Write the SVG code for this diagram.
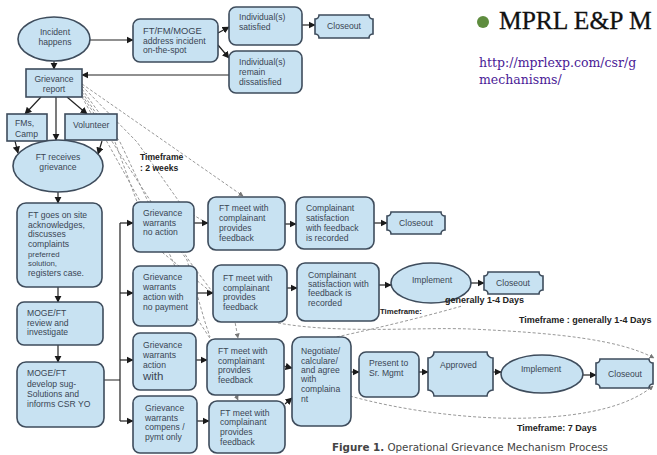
<svg xmlns="http://www.w3.org/2000/svg" width="657" height="455" viewBox="0 0 657 455">
<defs>
<marker id="ah" viewBox="0 0 10 10" refX="9" refY="5" markerWidth="6" markerHeight="6" orient="auto"><path d="M0,0 L10,5 L0,10 Z" fill="#1a1a1a"/></marker>
<marker id="ahg" viewBox="0 0 10 10" refX="9" refY="5" markerWidth="5" markerHeight="5" orient="auto"><path d="M0,0 L10,5 L0,10 Z" fill="#777"/></marker>
<style>
.n{fill:#c8e2f2;stroke:#3e4c5c;stroke-width:1.6}
.t{font-family:"Liberation Sans",Arial,sans-serif;font-size:8.6px;fill:#3a4654}
.tc{text-anchor:middle}
.s{font-size:7.8px}
.c{fill:none;stroke:#222;stroke-width:1.2;marker-end:url(#ah)}
.l{fill:none;stroke:#222;stroke-width:1.2}
.d{fill:none;stroke:#999;stroke-width:1;stroke-dasharray:3 2}
.da{marker-end:url(#ahg)}
.b{font-family:"Liberation Sans",Arial,sans-serif;font-weight:bold;font-size:8.6px;fill:#222}
</style>
</defs>
<rect width="657" height="455" fill="#fff"/>

<g id="connectors">
<path class="d da" d="M82,84 L243,196"/>
<path class="d" d="M82,86 L137,142 L185,210 L205,222"/>
<path class="d" d="M82,89 L120,142 L152,210 L187,260 L205,322 L210,337"/>
<path class="d" d="M82,92 L115,142 L140,210 L163,253 L211,292"/>
<path class="d da" d="M82,95 L190,262 L235,322 L238,338"/>
<path class="d da" d="M82,97 L170,255 L200,323 L213,343 L238,400"/>
<path class="d da" d="M278,323 C340,334 420,327 470,329 C560,333 620,340 654,358"/>
<path class="d" d="M322,340 C370,330 420,318 462,306"/>
<path class="d da" d="M350,396 C400,410 470,420 530,418 C590,416 630,405 653,386"/>

<path class="c" d="M90,40 L133,40"/>
<path class="c" d="M218,33 L229,27"/>
<path class="c" d="M218,45 L229,58"/>
<path class="c" d="M302,25 L315,25"/>
<path class="c" d="M229,75 L82,75"/>
<path class="c" d="M54,61 L54,69"/>
<path class="c" d="M41,97 L25,114"/>
<path class="c" d="M67,97 L87,114"/>
<path class="c" d="M56,97 L56,140"/>
<path class="c" d="M15,141 L18,153"/>
<path class="c" d="M102,141 L98,154"/>
<path class="c" d="M58,192 L58,203"/>
<path class="c" d="M58,287 L58,302"/>
<path class="c" d="M58,345 L58,362"/>
<path class="l" d="M104,380 L120,380 M120,223 L120,421"/>
<path class="c" d="M120,223 L133,223"/>
<path class="c" d="M120,293 L133,293"/>
<path class="c" d="M120,360 L133,360"/>
<path class="c" d="M120,421 L133,421"/>
<path class="c" d="M194,223 L208,223"/>
<path class="c" d="M285,224 L296,224"/>
<path class="c" d="M374,223 L387,223"/>
<path class="c" d="M197,293 L213,293"/>
<path class="c" d="M287,288 L297,288"/>
<path class="c" d="M379,285 L391,285"/>
<path class="c" d="M471,283 L484,283"/>
<path class="c" d="M196,360 L207,360"/>
<path class="c" d="M197,421 L209,421"/>
<path class="c" d="M284,366 L292,368"/>
<path class="c" d="M285,404 L292,398"/>
<path class="c" d="M351,372 L359,372"/>
<path class="c" d="M419,372 L428,372"/>
<path class="c" d="M493,372 L501,372"/>
<path class="c" d="M583,375 L596,375"/>
</g>

<g id="incident"><ellipse class="n" cx="54" cy="39" rx="36" ry="22"/><text class="t tc" x="55" y="35">Incident</text><text class="t tc" x="55" y="45">happens</text></g>
<g id="address"><rect class="n" x="133" y="19" width="85" height="43" rx="7"/><text class="t" x="143" y="34" style="font-size:9.4px">FT/FM/MOGE</text><text class="t" x="143" y="44">address incident</text><text class="t" x="143" y="53">on-the-spot</text></g>
<g id="satisfied"><rect class="n" x="229" y="7" width="73" height="38" rx="7"/><text class="t" x="239" y="20">Individual(s)</text><text class="t" x="239" y="30">satisfied</text></g>
<g id="dissatisfied"><rect class="n" x="229" y="51" width="73" height="42" rx="7"/><text class="t" x="239" y="65">Individual(s)</text><text class="t" x="239" y="75">remain</text><text class="t" x="239" y="85">dissatisfied</text></g>
<g id="closeout0"><path class="n" d="M319,15 H369 A4,4 0 0 0 373,19 V34 A4,4 0 0 0 369,38 H319 A4,4 0 0 0 315,34 V19 A4,4 0 0 0 319,15 Z"/><text class="t tc" x="344" y="29">Closeout</text></g>
<g id="report"><rect class="n" x="26" y="69" width="56" height="28"/><text class="t tc" x="54" y="82">Grievance</text><text class="t tc" x="54" y="92">report</text></g>
<g id="fms"><rect class="n" x="7" y="114" width="40" height="27"/><text class="t" x="15" y="126">FMs,</text><text class="t" x="15" y="137">Camp</text></g>
<g id="volunteer"><rect class="n" x="65" y="114" width="52" height="26"/><text class="t" x="73" y="128">Volunteer</text></g>
<g id="receives"><ellipse class="n" cx="58" cy="166" rx="45" ry="26"/><text class="t tc" x="58" y="160">FT receives</text><text class="t tc" x="58" y="170">grievance</text></g>
<g id="onsite"><rect class="n" x="17" y="203" width="85" height="84" rx="9"/><text class="t" x="28" y="218">FT goes on site</text><text class="t" x="28" y="228">acknowledges,</text><text class="t" x="28" y="237">discusses</text><text class="t" x="28" y="247">complaints</text><text class="t s" x="28" y="257">preferred</text><text class="t s" x="28" y="266">solution,</text><text class="t" x="28" y="276">registers case.</text></g>
<g id="review"><rect class="n" x="17" y="302" width="86" height="43" rx="7"/><text class="t" x="27" y="316">MOGE/FT</text><text class="t" x="27" y="326">review and</text><text class="t" x="27" y="335">investigate</text></g>
<g id="develop"><rect class="n" x="17" y="362" width="87" height="65" rx="9"/><text class="t" x="27" y="376">MOGE/FT</text><text class="t" x="27" y="387">develop sug-</text><text class="t" x="27" y="397">Solutions and</text><text class="t" x="27" y="407">informs CSR YO</text></g>

<g id="g1"><rect class="n" x="133" y="202" width="61" height="50" rx="7"/><text class="t" x="143" y="216">Grievance</text><text class="t" x="143" y="226">warrants</text><text class="t" x="143" y="235">no action</text></g>
<g id="g2"><rect class="n" x="133" y="266" width="64" height="60" rx="7"/><text class="t" x="143" y="280">Grievance</text><text class="t" x="143" y="290">warrants</text><text class="t" x="143" y="300">action with</text><text class="t" x="143" y="310">no payment</text></g>
<g id="g3"><rect class="n" x="133" y="333" width="63" height="57" rx="7"/><text class="t" x="143" y="348">Grievance</text><text class="t" x="143" y="358">warrants</text><text class="t" x="143" y="368">action</text><text class="t" x="143" y="380" style="font-size:11.5px">with</text></g>
<g id="g4"><rect class="n" x="133" y="396" width="64" height="57" rx="7"/><text class="t" x="145" y="411">Grievance</text><text class="t" x="145" y="421">warrants</text><text class="t" x="145" y="430">compens /</text><text class="t" x="145" y="440">pymt only</text></g>

<g id="ft1"><rect class="n" x="208" y="197" width="77" height="53" rx="8"/><text class="t" x="219" y="211">FT meet with</text><text class="t" x="219" y="221">complainant</text><text class="t" x="219" y="231">provides</text><text class="t" x="219" y="241">feedback</text></g>
<g id="ft2"><rect class="n" x="213" y="265" width="74" height="57" rx="8"/><text class="t" x="223" y="281">FT meet with</text><text class="t" x="223" y="291">complainant</text><text class="t" x="223" y="300">provides</text><text class="t" x="223" y="310">feedback</text></g>
<g id="ft3"><rect class="n" x="207" y="339" width="77" height="56" rx="8"/><text class="t" x="218" y="354">FT meet with</text><text class="t" x="218" y="364">complainant</text><text class="t" x="218" y="373">provides</text><text class="t" x="218" y="383">feedback</text></g>
<g id="ft4"><rect class="n" x="209" y="401" width="76" height="52" rx="8"/><text class="t" x="220" y="416">FT meet with</text><text class="t" x="220" y="425">complainant</text><text class="t" x="220" y="435">provides</text><text class="t" x="220" y="445">feedback</text></g>

<g id="sat1"><rect class="n" x="296" y="197" width="78" height="52" rx="8"/><text class="t" x="306" y="211">Complainant</text><text class="t" x="306" y="221">satisfaction</text><text class="t" x="306" y="231">with feedback</text><text class="t" x="306" y="241">is recorded</text></g>
<g id="close1"><path class="n" d="M391,212 H441 A4,4 0 0 0 445,216 V230 A4,4 0 0 0 441,234 H391 A4,4 0 0 0 387,230 V216 A4,4 0 0 0 391,212 Z"/><text class="t tc" x="416" y="226">Closeout</text></g>
<g id="sat2"><rect class="n" x="297" y="263" width="82" height="58" rx="8"/><text class="t" x="308" y="278">Complainant</text><text class="t" x="308" y="287">satisfaction with</text><text class="t" x="308" y="296">feedback is</text><text class="t" x="308" y="306">recorded</text></g>
<g id="impl2"><ellipse class="n" cx="431" cy="283" rx="40" ry="20"/><text class="t tc" x="432" y="283">Implement</text></g>
<g id="close2"><path class="n" d="M488,272 H539 A4,4 0 0 0 543,276 V290 A4,4 0 0 0 539,294 H488 A4,4 0 0 0 484,290 V276 A4,4 0 0 0 488,272 Z"/><text class="t tc" x="513" y="286">Closeout</text></g>

<g id="negotiate"><rect class="n" x="292" y="337" width="59" height="89" rx="9"/><text class="t" x="301" y="354">Negotiate/</text><text class="t" x="301" y="364">calculare/</text><text class="t" x="301" y="373">and agree</text><text class="t" x="301" y="382">with</text><text class="t" x="301" y="392">complaina</text><text class="t" x="301" y="402">nt</text></g>
<g id="present"><rect class="n" x="359" y="352" width="60" height="45" rx="7"/><text class="t" x="369" y="366">Present to</text><text class="t" x="369" y="376">Sr. Mgmt</text></g>
<g id="approved"><path class="n" d="M434,352 H487 A6,6 0 0 0 493,358 V390 A6,6 0 0 0 487,396 H434 A6,6 0 0 0 428,390 V358 A6,6 0 0 0 434,352 Z"/><text class="t" x="440" y="368">Approved</text></g>
<g id="impl3"><ellipse class="n" cx="542" cy="374" rx="41" ry="19"/><text class="t tc" x="541" y="372">Implement</text></g>
<g id="close3"><path class="n" d="M600,359 H649 A4,4 0 0 0 653,363 V384 A4,4 0 0 0 649,388 H600 A4,4 0 0 0 596,384 V363 A4,4 0 0 0 600,359 Z"/><text class="t tc" x="625" y="377">Closeout</text></g>

<g id="labels">
<text class="b" x="140" y="160">Timeframe</text>
<text class="b" x="140" y="171">: 2 weeks</text>
<text class="b" x="380" y="314" style="font-size:7.8px">Timeframe:</text>
<text class="b" x="445" y="303" style="font-size:9px">generally 1-4 Days</text>
<text class="b" x="519" y="323" style="font-size:9px">Timeframe : generally 1-4 Days</text>
<text class="b" x="517" y="431" style="font-size:9px">Timeframe: 7 Days</text>
<text x="332" y="451" style="font-family:'DejaVu Sans Condensed','Liberation Sans',sans-serif;font-size:11px;fill:#444" textLength="276" lengthAdjust="spacingAndGlyphs"><tspan font-weight="bold">Figure 1.</tspan> Operational Grievance Mechanism Process</text>
</g>

<g id="header">
<circle cx="483" cy="22" r="6" fill="#5e8c3e"/>
<text x="499" y="29" style="font-family:'Liberation Serif','Times New Roman',serif;font-size:25.5px;fill:#111;stroke:#111;stroke-width:0.3">MPRL E&amp;P M</text>
<text x="479" y="67" style="font-family:'DejaVu Serif',serif;font-size:12.5px;fill:#4a1a96">http://mprlexp.com/csr/g</text>
<text x="479" y="84" style="font-family:'DejaVu Serif',serif;font-size:12.5px;fill:#4a1a96">mechanisms/</text>
</g>
</svg>
